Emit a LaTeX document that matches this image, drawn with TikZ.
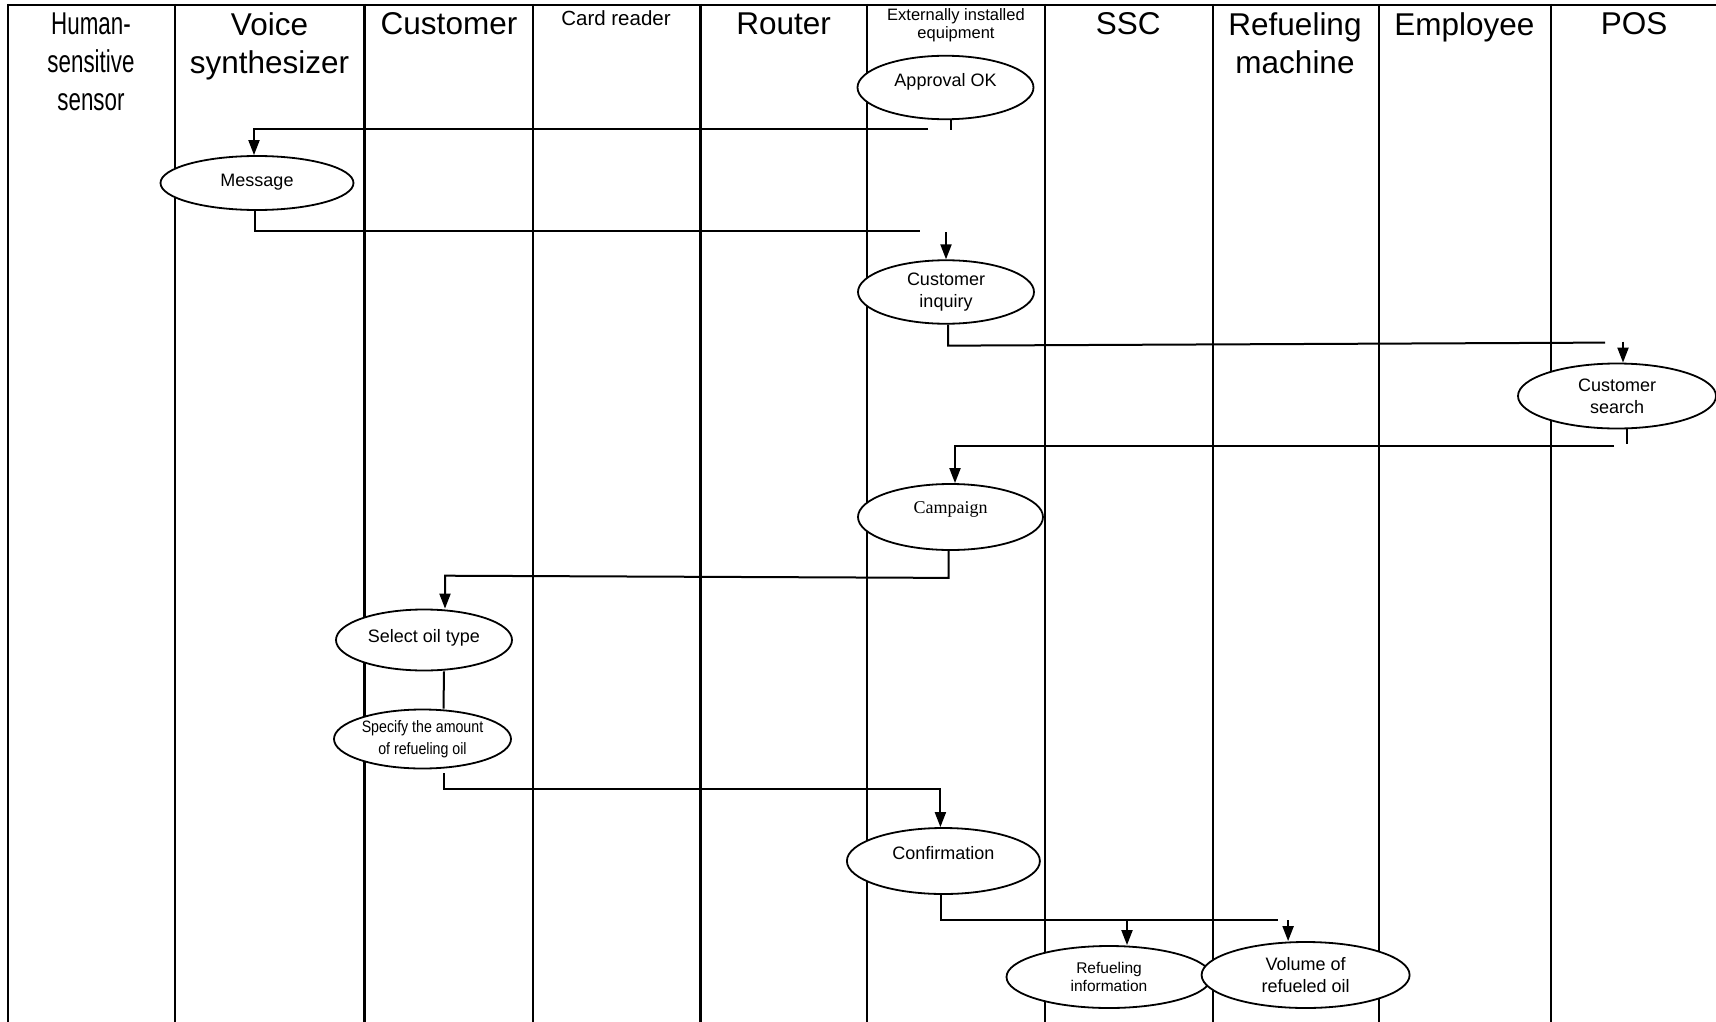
\documentclass[tikz,border=0pt]{standalone}
\usepackage{fontspec}
\setmainfont{Liberation Sans}
\newfontfamily\narrowfont[FakeStretch=0.71]{Liberation Sans}
\newfontfamily\semifont[FakeStretch=0.86]{Liberation Sans}
\newfontfamily\timesfont{Liberation Serif}
\usetikzlibrary{shapes.geometric,arrows.meta}
\begin{document}
\begin{tikzpicture}[x=1pt,y=-1pt,
  lane/.style={line width=2.2pt},
  hdr/.style={font=\fontsize{31.5}{38}\selectfont, align=center, inner sep=0pt},
  proc/.style={draw, ellipse, fill=white, line width=1.8pt, inner sep=0pt, align=center, font=\fontsize{18}{22}\selectfont},
  conn/.style={line width=2pt},
  tick/.style={line width=1.2pt},
  arr/.style={line width=2pt, -{Triangle[length=15pt,width=11pt]}}
]
\useasboundingbox (0,0) rectangle (1716,1022);
\fill[white] (0,0) rectangle (1716,1022);
% swimlanes
\draw[lane] (7,5) -- (1716,5);
\foreach \lx in {8,175,364.5,533,700.4,867,1045,1212.6,1379,1550.8} \draw[lane] (\lx,4) -- (\lx,1022);
% headers
\node[hdr, font=\narrowfont\fontsize{31.5}{38}\selectfont] (hhs) at (91,62) {Human-\\sensitive\\sensor};
\node[hdr] (hvs) at (269.5,46.3) {Voice\\synthesizer};
\node[hdr] (hcu) at (449,24) {Customer};
\node[hdr, font=\fontsize{20.5}{24}\selectfont] (hcr) at (616,18) {Card reader};
\node[hdr] (hro) at (783.6,24) {Router};
\node[hdr, font=\fontsize{16.5}{18.6}\selectfont] (hex) at (956,25.2) {Externally installed\\equipment};
\node[hdr] (hssc) at (1128.3,24) {SSC};
\node[hdr] (hrm) at (1295,42.8) {Refueling\\machine};
\node[hdr] (hem) at (1464.3,27.3) {Employee};
\node[hdr] (hpos) at (1634,24) {POS};
% processes
\node[proc, minimum width=176pt, minimum height=63.5pt, text height=13pt, text depth=15pt] (appr) at (945.5,87.5) {Approval OK};
\node[proc, minimum width=193pt, minimum height=54pt, text height=13pt, text depth=6pt] (msg) at (257,183) {Message};
\node[proc, minimum width=176pt, minimum height=63.5pt] (inq) at (946,292) {Customer\\inquiry};
\node[proc, minimum width=198pt, minimum height=65pt] (srch) at (1617,396) {Customer\\search};
\node[proc, minimum width=185pt, minimum height=66pt, font=\timesfont\fontsize{18}{22}\selectfont, text height=12pt, text depth=19pt] (camp) at (950.5,517) {Campaign};
\node[proc, minimum width=176pt, minimum height=61pt, text height=13pt, text depth=8pt] (sel) at (424,640) {Select oil type};
\node[proc, minimum width=177pt, minimum height=59pt, font=\semifont\fontsize{16.5}{21.5}\selectfont] (spec) at (422.5,739) {Specify the amount\\of refueling oil};
\node[proc, minimum width=193pt, minimum height=66pt, text height=13pt, text depth=17pt] (conf) at (943.4,861) {Confirmation};
\node[proc, minimum width=205pt, minimum height=62pt, font=\fontsize{15.5}{18}\selectfont] (ref) at (1109,977) {Refueling\\information};
\node[proc, minimum width=208pt, minimum height=66pt] (vol) at (1305.6,975) {Volume of\\refueled oil};
% connectors
\draw[tick] ([xshift=5.5pt]appr.south) -- ++(0,10);
\coordinate (c1) at (928,129.5);
\draw[arr] (c1) -| ([xshift=-3pt]msg.north);
\coordinate (c2) at (920.4,231);
\draw[conn] ([xshift=-2pt]msg.south) |- (c2);
\draw[arr] ([yshift=27pt]inq.north) -- (inq.north);
\coordinate (c3) at (1605,342.6);
\draw[conn] ([xshift=2pt]inq.south) -- ++(0,21) -- (c3);
\draw[arr] ([xshift=6pt,yshift=21pt]srch.north) -- ([xshift=6pt]srch.north);
\draw[tick] ([xshift=10pt]srch.south) -- ++(0,15);
\coordinate (c4) at (1614,445.8);
\draw[arr] (c4) -| ([xshift=4.5pt]camp.north);
\coordinate (c5) at (445,575.7);
\draw[arr] ([xshift=-2pt]camp.south) -- ++(0,27) -- (c5) -- ([xshift=21pt]sel.north);
\draw[conn] ([xshift=20pt]sel.south) -- ([xshift=21pt]spec.north);
\draw[arr] ([xshift=21pt,yshift=-4pt]spec.south) |- ([xshift=-3pt,yshift=38pt]conf.north) -- ([xshift=-3pt]conf.north);
\coordinate (c8) at (1278.3,920.4);
\draw[conn] ([xshift=-2pt]conf.south) |- (c8);
\draw[arr] ([xshift=18pt,yshift=25pt]ref.north) -- ([xshift=18pt]ref.north);
\draw[arr] ([xshift=-17.5pt,yshift=21pt]vol.north) -- ([xshift=-17.5pt]vol.north);
\end{tikzpicture}
\end{document}
